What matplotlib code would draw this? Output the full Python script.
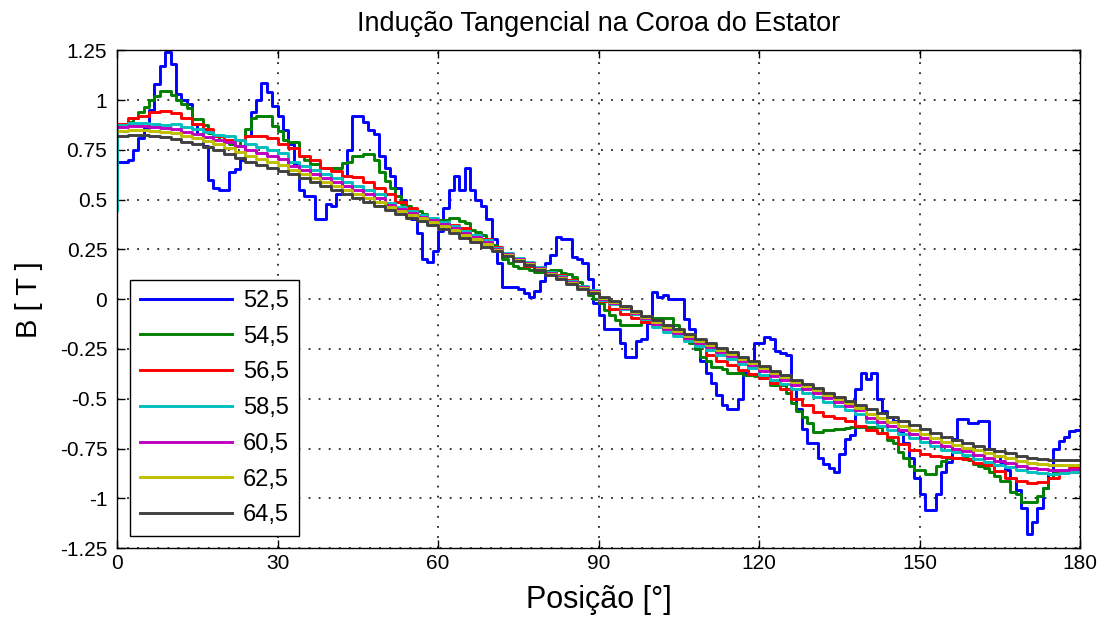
import numpy as np
import matplotlib
matplotlib.use("Agg")
import matplotlib.pyplot as plt

plt.rcParams['font.family'] = ['Liberation Sans', 'DejaVu Sans']
plt.rcParams['axes.unicode_minus'] = False

title = "Indução Tangencial na Coroa do Estator"
xlabel = "Posição [°]"
ylabel = "B [ T ]"
labels = ["52,5", "54,5", "56,5", "58,5", "60,5", "62,5", "64,5"]
colors = ["#0000ff", "#008000", "#ff0000", "#00bfbf", "#bf00bf", "#bfbf00", "#404040"]
xticks = [0, 30, 60, 90, 120, 150, 180]
yticks = [1.25, 1, 0.75, 0.5, 0.25, 0, -0.25, -0.5, -0.75, -1, -1.25]
yticklabels = ["1.25", "1", "0.75", "0.5", "0.25", "0", "-0.25", "-0.5", "-0.75", "-1", "-1.25"]

# 1-degree grid series
x1 = np.arange(0, 181, 1)
b_525 = [
    .69, .69, .70, .75, .81, .86, .95, 1.08, 1.17, 1.24,
    1.18, 1.03, 1.0, .98, .88, .83, .77, .60, .56, .55,
    .55, .64, .655, .70, .82, .94, 1.0, 1.085, 1.04, .97,
    .92, .85, .78, .68, .55, .52, .52, .40, .40, .48,
    .47, .53, .62, .75, .92, .92, .89, .85, .83, .72,
    .66, .62, .56, .50, .44, .40, .33, .20, .185, .24,
    .34, .46, .55, .62, .55, .66, .55, .50, .47, .40,
    .30, .18, .06, .06, .06, .05, .03, .01, .04, .09,
    .18, .22, .31, .30, .30, .21, .20, .18, .10, -.02,
    -.08, -.15, -.15, -.15, -.22, -.29, -.29, -.21, -.20, -.12,
    .035, .01, .02, .0, .0, .0, -.10, -.15, -.25, -.31,
    -.37, -.42, -.48, -.53, -.55, -.55, -.50, -.37, -.34, -.22,
    -.22, -.19, -.20, -.26, -.27, -.28, -.45, -.55, -.65, -.72,
    -.72, -.80, -.83, -.85, -.87, -.78, -.70, -.68, -.45, -.37,
    -.40, -.37, -.50, -.56, -.59, -.61, -.66, -.72, -.80, -.90,
    -.98, -1.06, -1.06, -.98, -.87, -.82, -.70, -.60, -.60, -.62,
    -.62, -.61, -.61, -.75, -.79, -.82, -.86, -.90, -.96, -1.05,
    -1.18, -1.12, -1.05, -.95, -.88, -.75, -.71, -.69, -.66, -.655,
    -.655,
]
b_545 = [
    .87, .88, .89, .91, .94, .965, 1.0, 1.02, 1.045, 1.045,
    1.025, 1.0, .98, .96, .905, .905, .875, .835, .82, .80,
    .79, .78, .77, .80, .855, .91, .92, .92, .92, .87,
    .845, .80, .79, .79, .72, .70, .68, .68, .66, .66,
    .66, .66, .685, .69, .72, .72, .73, .73, .70, .64,
    .595, .56, .52, .48, .47, .445, .445, .43, .405, .40,
    .395, .395, .405, .405, .39, .38, .345, .335, .32, .295,
    .27, .24, .20, .18, .165, .155, .155, .145, .135, .135,
    .14, .145, .145, .13, .125, .11, .085, .06, .02, .0,
    -.02, -.055, -.08, -.105, -.13, -.13, -.13, -.13, -.105, -.10,
    -.095, -.095, -.095, -.095, -.13, -.17, -.19, -.22, -.25, -.29,
    -.31, -.34, -.34, -.35, -.37, -.37, -.37, -.38, -.38, -.385,
    -.395, -.395, -.43, -.43, -.43, -.47, -.52, -.56, -.59, -.62,
    -.665, -.665, -.655, -.655, -.65, -.65, -.645, -.64, -.64, -.64,
    -.64, -.64, -.64, -.67, -.705, -.72, -.77, -.80, -.84, -.86,
    -.86, -.88, -.88, -.84, -.815, -.80, -.80, -.80, -.80, -.81,
    -.83, -.84, -.85, -.87, -.89, -.915, -.915, -.97, -.98, -1.02,
    -1.02, -1.02, -.99, -.95, -.90, -.875, -.875, -.86, -.85, -.85,
    -.85,
]

# 2-degree grid series
x2 = np.arange(0, 181, 2)
b_565 = [
    .88, .91, .92, .94, .945, .935, .91, .88, .855, .82,
    .80, .80, .82, .82, .81, .78, .76, .72, .70, .66,
    .645, .62, .615, .59, .56, .53, .49, .46, .42, .40,
    .38, .37, .355, .32, .30, .26, .22, .20, .165, .15,
    .13, .12, .095, .06, .045, -.01, -.05, -.075, -.095, -.115,
    -.125, -.14, -.165, -.20, -.23, -.28, -.31, -.33, -.355, -.375,
    -.395, -.42, -.45, -.50, -.53, -.565, -.585, -.595, -.61, -.635,
    -.655, -.67, -.69, -.725, -.76, -.78, -.79, -.795, -.80, -.805,
    -.825, -.835, -.865, -.90, -.915, -.925, -.92, -.90, -.87, -.85,
    -.845,
]
x_585 = np.concatenate([[0], x2])
b_585 = [
    .45,
    .875, .885, .885, .88, .875, .88, .865, .855, .84, .825,
    .82, .80, .78, .765, .75, .735, .69, .67, .65, .63,
    .61, .59, .57, .55, .53, .485, .465, .445, .425, .405,
    .385, .365, .34, .32, .295, .255, .23, .205, .185, .16,
    .135, .115, .09, .065, .045, -.005, -.025, -.05, -.075, -.10,
    -.14, -.165, -.185, -.21, -.235, -.255, -.28, -.30, -.325, -.345,
    -.38, -.405, -.425, -.45, -.47, -.49, -.515, -.535, -.555, -.575,
    -.615, -.635, -.655, -.675, -.695, -.715, -.735, -.755, -.77, -.785,
    -.805, -.82, -.835, -.845, -.86, -.87, -.875, -.88, -.875, -.87,
    -.865,
]
b_605 = [
    .865, .87, .87, .865, .86, .855, .84, .83, .815, .80,
    .79, .77, .75, .735, .72, .705, .67, .65, .63, .61,
    .59, .57, .55, .53, .51, .475, .455, .435, .415, .395,
    .375, .355, .33, .31, .285, .25, .225, .20, .18, .155,
    .13, .11, .085, .06, .04, .0, -.02, -.045, -.07, -.095,
    -.125, -.15, -.17, -.195, -.22, -.24, -.265, -.285, -.31, -.33,
    -.36, -.385, -.405, -.43, -.45, -.47, -.495, -.515, -.535, -.555,
    -.595, -.615, -.635, -.655, -.675, -.695, -.715, -.735, -.75, -.765,
    -.785, -.80, -.815, -.825, -.84, -.85, -.855, -.86, -.86, -.855,
    -.85,
]
b_625 = [
    .845, .85, .85, .845, .84, .835, .82, .81, .795, .78,
    .76, .74, .72, .705, .69, .675, .65, .63, .61, .59,
    .57, .55, .53, .51, .49, .465, .445, .425, .405, .385,
    .365, .345, .32, .30, .275, .245, .22, .195, .175, .15,
    .125, .105, .08, .055, .035, .005, -.015, -.04, -.065, -.09,
    -.115, -.14, -.16, -.185, -.21, -.23, -.255, -.275, -.30, -.32,
    -.345, -.37, -.39, -.415, -.435, -.455, -.48, -.50, -.52, -.545,
    -.575, -.595, -.615, -.635, -.655, -.675, -.695, -.715, -.73, -.745,
    -.76, -.775, -.79, -.80, -.815, -.825, -.83, -.835, -.835, -.835,
    -.835,
]
b_645 = [
    .82, .825, .825, .82, .815, .805, .79, .78, .765, .75,
    .73, .71, .69, .675, .66, .645, .63, .61, .59, .57,
    .55, .53, .51, .49, .47, .45, .43, .41, .39, .37,
    .35, .33, .305, .285, .26, .24, .215, .19, .17, .145,
    .12, .10, .075, .05, .03, .01, -.01, -.035, -.06, -.085,
    -.105, -.13, -.15, -.175, -.20, -.22, -.245, -.265, -.29, -.31,
    -.335, -.36, -.38, -.405, -.425, -.445, -.47, -.49, -.51, -.53,
    -.55, -.57, -.59, -.61, -.63, -.65, -.67, -.69, -.705, -.72,
    -.735, -.75, -.765, -.775, -.79, -.80, -.805, -.81, -.81, -.81,
    -.81,
]

series = [
    (x1, b_525), (x1, b_545), (x2, b_565), (x_585, b_585),
    (x2, b_605), (x2, b_625), (x2, b_645),
]

fig = plt.figure(figsize=(11.06, 6.2), dpi=100)
ax = fig.add_axes([0.1058, 0.116, 0.8707, 0.803])

for (xs, ys), c, lab in zip(series, colors, labels):
    ax.step(xs, ys, where='post', color=c, lw=2.1, label=lab)

ax.set_xlim(0, 180)
ax.set_ylim(-1.25, 1.25)
ax.set_xticks(xticks)
ax.set_xticklabels([str(t) for t in xticks])
ax.set_yticks(yticks)
ax.set_yticklabels(yticklabels)
ax.tick_params(direction='in', length=6, width=1, top=True, right=True,
               labelsize=15, colors='black')
ax.tick_params(axis='x', pad=4)
ax.tick_params(axis='y', pad=7)
ax.grid(True, color='black', linestyle=(0, (1.2, 5.4)), linewidth=1.1)
ax.set_axisbelow(True)
for s in ax.spines.values():
    s.set_linewidth(1.0)
    s.set_color('black')

ax.set_title(title, fontsize=19.5, pad=14)
ax.set_xlabel(xlabel, fontsize=22, labelpad=9)
ax.set_ylabel(ylabel, fontsize=21, labelpad=12)

leg = ax.legend(loc='lower left', bbox_to_anchor=(0.0135, 0.024), fontsize=17,
                handlelength=3.9, labelspacing=0.58, handletextpad=0.45,
                borderpad=0.42, borderaxespad=0, fancybox=False, framealpha=1,
                edgecolor='black')
leg.get_frame().set_linewidth(1.0)

fig.savefig("out.png", dpi=100, facecolor='white')
